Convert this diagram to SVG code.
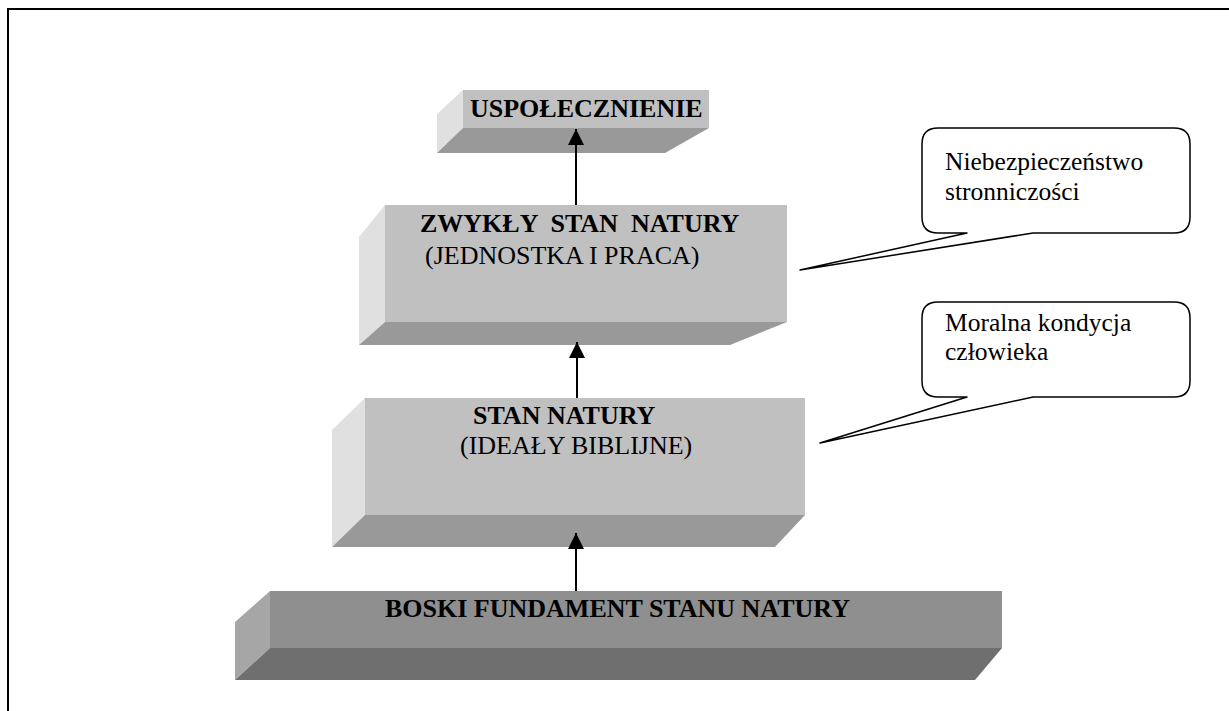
<svg xmlns="http://www.w3.org/2000/svg" width="1229" height="711" viewBox="0 0 1229 711">
<defs>
<style>
.front{fill:#c0c0c0}
.left{fill:#e0e0e0}
.bottom{fill:#999999}
.front4{fill:#8f8f8f}
.left4{fill:#a6a6a6}
.bottom4{fill:#6f6f6f}
.tb{font-family:"Liberation Serif","Times New Roman",serif;font-size:26px;font-weight:bold;fill:#000}
.tr{font-family:"Liberation Serif","Times New Roman",serif;font-size:26px;fill:#000}
.tc{font-family:"Liberation Serif","Times New Roman",serif;font-size:25.5px;fill:#000}
.call{fill:#fff;stroke:#000;stroke-width:1.5;stroke-linejoin:round}
.conn{stroke:#000;stroke-width:2;fill:none}
</style>
<marker id="arr" markerWidth="16" markerHeight="16" viewBox="0 0 16 16" refX="16" refY="8" orient="auto" markerUnits="userSpaceOnUse">
<path d="M0,0 L16,8 L0,16 Z" fill="#000"/>
</marker>
</defs>
<rect width="1229" height="711" fill="#fff"/>
<path d="M8,711 V9 H1229" fill="none" stroke="#000" stroke-width="2"/>

<g id="node-uspolecznienie">
<polygon class="left" points="463,90 437,114 437,153 463,128"/>
<polygon class="bottom" points="463,128 709,128 665,153 437,153"/>
<rect class="front" x="463" y="90" width="246" height="38"/>
<text class="tb" x="470" y="117">USPOŁECZNIENIE</text>
</g>

<g id="node-zwykly">
<polygon class="left" points="385,205 359,237 359,345 385,322"/>
<polygon class="bottom" points="385,322 787,322 730,345 359,345"/>
<rect class="front" x="385" y="205" width="402" height="117"/>
<text class="tb" x="420" y="232" xml:space="preserve">ZWYKŁY  STAN  NATURY</text>
<text class="tr" x="425" y="264">(JEDNOSTKA I PRACA)</text>
</g>

<g id="node-stan">
<polygon class="left" points="365,398 332,430 332,547 365,515"/>
<polygon class="bottom" points="365,515 805,515 775,547 332,547"/>
<rect class="front" x="365" y="398" width="440" height="117"/>
<text class="tb" x="473" y="424">STAN NATURY</text>
<text class="tr" x="460" y="454">(IDEAŁY BIBLIJNE)</text>
</g>

<g id="node-boski">
<polygon class="left4" points="270,591 235,622 235,680 270,648"/>
<polygon class="bottom4" points="270,648 1002,648 975,680 235,680"/>
<rect class="front4" x="270" y="591" width="732" height="57"/>
<text class="tb" x="385" y="617">BOSKI FUNDAMENT STANU NATURY</text>
</g>

<g id="callout-niebezpieczenstwo">
<path class="call" d="M938,128 H1174 Q1190,128 1190,144 V217 Q1190,233 1174,233 H1033 L800,270 L967,233 H938 Q922,233 922,217 V144 Q922,128 938,128 Z"/>
<text class="tc" x="945" y="170">Niebezpieczeństwo</text>
<text class="tc" x="945" y="200">stronniczości</text>
</g>

<g id="callout-moralna">
<path class="call" d="M938,302 H1174 Q1190,302 1190,318 V381 Q1190,397 1174,397 H1033 L820,443 L967,397 H938 Q922,397 922,381 V318 Q922,302 938,302 Z"/>
<text class="tc" x="945" y="331">Moralna kondycja</text>
<text class="tc" x="945" y="360">człowieka</text>
</g>

<g id="connectors">
<line class="conn" x1="576" y1="205" x2="576" y2="129" marker-end="url(#arr)"/>
<line class="conn" x1="577" y1="398" x2="577" y2="342" marker-end="url(#arr)"/>
<line class="conn" x1="576" y1="591" x2="576" y2="533" marker-end="url(#arr)"/>
</g>
</svg>
